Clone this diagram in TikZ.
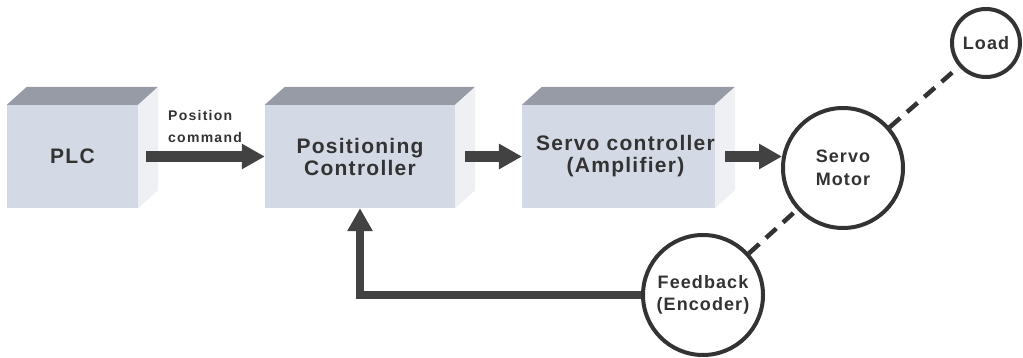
\documentclass[tikz,border=0pt]{standalone}
\usepackage{fontspec}
\setmainfont{Liberation Sans}
\newfontfamily\boxfont[LetterSpace=6]{Liberation Sans}
\newfontfamily\cmdfont[LetterSpace=9]{Liberation Sans}
\usetikzlibrary{arrows.meta}

\definecolor{facefront}{HTML}{D4DAE5}
\definecolor{facetop}{HTML}{979BA5}
\definecolor{faceside}{HTML}{EEF0F4}
\definecolor{ink}{HTML}{333333}
\definecolor{arrowgray}{HTML}{424242}

\tikzset{
  block/.style={fill=facefront, draw=none, minimum width=#1, minimum height=103,
    inner sep=0pt, align=center, text=ink,
    font=\boxfont\bfseries\fontsize{21}{22}\selectfont},
  ring/.style={circle, draw=ink, line width=4pt, minimum size=#1, inner sep=0pt,
    align=center, text=ink, font=\boxfont\bfseries\fontsize{18}{22.5}\selectfont},
  flow/.style={draw=arrowgray, line width=11pt,
    -{Triangle[length=23pt,width=24pt]}},
  backflow/.style={draw=arrowgray, line width=8.5pt,
    -{Triangle[length=23pt,width=24pt]}},
  link/.style={draw=ink, line width=4.5pt, dash pattern=on 14pt off 9pt},
  cmdlabel/.style={anchor=west, align=left, inner sep=0pt, text=ink,
    font=\cmdfont\bfseries\fontsize{14}{22}\selectfont},
}

% top and side faces of a block, drawn behind its front face
\newcommand{\blockfaces}[1]{%
  \fill[facetop] (#1.north west) -- ([shift={(20,-18)}]#1.north west)
    -- ([shift={(20,-18)}]#1.north east) -- (#1.north east) -- cycle;
  \fill[faceside] (#1.north east) -- ([shift={(20,-18)}]#1.north east)
    -- ([shift={(20,-18)}]#1.south east) -- (#1.south east) -- cycle;
}

\begin{document}
\begin{tikzpicture}[x=1pt, y=-1pt]
  \useasboundingbox (0,0) rectangle (1023,358);

  % blocks
  \node[block=131] (plc)   at (72.5,156.5) {PLC};
  \node[block=190] (pos)   at (360,156.5)  {Positioning\\Controller};
  \node[block=187] (servo) at (618.5,156.5) {\hspace*{14pt}Servo controller\\\hspace*{14pt}(Amplifier)};
  \blockfaces{plc}
  \blockfaces{pos}
  \blockfaces{servo}

  % circles
  \node[ring=120] (motor) at (843,168) {Servo\\Motor};
  \node[ring=68]  (load)  at (986,43)  {Load};
  \node[ring=120] (fb)    at (703,295) {Feedback\\(Encoder)};

  % signal label
  \node[cmdlabel] (cmd) at (168,126) {Position\\command};

  % forward path
  \draw[flow] ([xshift=8pt]plc.east) -- (pos.west);
  \draw[flow] ([xshift=10pt]pos.east) -- (servo.west);
  \draw[flow] ([xshift=10pt]servo.east) -- ([xshift=1pt]servo.east -| motor.west);

  % feedback path
  \draw[backflow] (fb.west) -| (pos.south);

  % mechanical couplings
  \draw[link] (motor) -- (load);
  \draw[link] (fb) -- (motor);
\end{tikzpicture}
\end{document}
